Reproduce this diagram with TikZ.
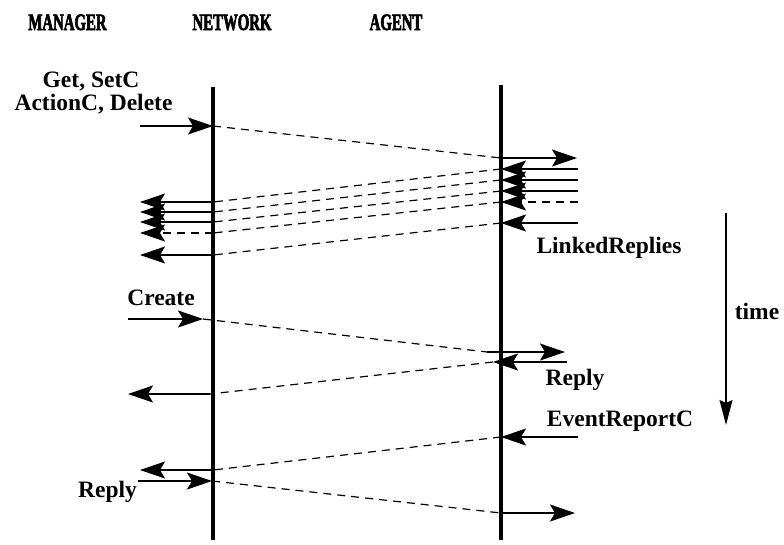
\documentclass[tikz,border=0pt]{standalone}
\usepackage{fontspec}
\setmainfont{Liberation Serif}
\newfontfamily\headfont[FakeStretch=0.63,FakeBold=2.5]{Liberation Serif Bold}
\usetikzlibrary{arrows.meta}
\tikzset{
  lifeline/.style={
    line width=3.2pt,
    black
  },
  msg/.style={
    -{Stealth[length=25pt,width=17pt,inset=5pt]},
    line width=1.3pt
  },
  cross/.style={
    line width=1.2pt,
    dash pattern=on 8pt off 6pt
  },
  timearrow/.style={
    -{Stealth[length=25pt,width=13pt,inset=3pt]},
    line width=1.3pt
  },
  head/.style={
    anchor=base,
    inner sep=0pt,
    font=\headfont\fontsize{23.5}{25}\selectfont
  },
  lbl/.style={
    anchor=base,
    inner sep=0pt,
    font=\bfseries\fontsize{23.5}{25}\selectfont
  }
}
\begin{document}
\begin{tikzpicture}[x=1pt,y=-1pt]
\useasboundingbox (0,0) rectangle (784,544);
% headings
\node[head] (hman) at (67.5,30) {MANAGER};
\node[head] (hnet) at (232,30) {NETWORK};
\node[head] (hag) at (396,30) {AGENT};
% life lines
\coordinate (mtop) at (213,87);
\coordinate (mbot) at (213,540);
\coordinate (atop) at (501,85);
\coordinate (abot) at (501,540);
\draw[lifeline] (mtop) -- (mbot);
\draw[lifeline] (atop) -- (abot);
% request
\node[lbl] (lget) at (91,87) {Get, SetC};
\node[lbl] (lact) at (93.5,110) {ActionC, Delete};
\coordinate (r1s) at (140,126);
\coordinate (r1m) at (213,126);
\coordinate (r1a) at (501,158);
\coordinate (r1e) at (577,158);
\draw[msg] (r1s) -- (r1m);
\draw[cross] (r1m) -- (r1a);
\draw[msg] (r1a) -- (r1e);
% linked replies
\foreach \ya/\ym/\st [count=\i] in {169/202/solid,180/212/solid,191/222/solid,202/233/cross,223/255/solid}{
  \coordinate (ls\i) at (578,\ya);
  \coordinate (la\i) at (501,\ya);
  \coordinate (lm\i) at (213,\ym);
  \coordinate (le\i) at (140,\ym);
  \draw[msg,\st] (ls\i) -- (la\i);
  \draw[cross] (la\i) -- (lm\i);
  \draw[msg,\st] (lm\i) -- (le\i);
}
\node[lbl] (llink) at (609,253) {LinkedReplies};
% create
\node[lbl] (lcre) at (161,305) {Create};
\coordinate (c1s) at (128,319);
\coordinate (c1m) at (203,319);
\coordinate (c1a) at (487,352);
\coordinate (c1e) at (565,352);
\draw[msg] (c1s) -- (c1m);
\draw[cross] (c1m) -- (c1a);
\draw[msg] (c1a) -- (c1e);
\coordinate (p1s) at (567,362);
\coordinate (p1a) at (493,362);
\coordinate (p1m) at (210,394);
\coordinate (p1e) at (128,394);
\draw[msg] (p1s) -- (p1a);
\draw[cross] (p1a) -- (p1m);
\draw[msg] (p1m) -- (p1e);
\node[lbl] (lrep1) at (575,385) {Reply};
% event report
\node[lbl] (levt) at (620,426) {EventReportC};
\coordinate (e1s) at (578,437);
\coordinate (e1a) at (501,437);
\coordinate (e1m) at (213,470);
\coordinate (e1e) at (140,470);
\draw[msg] (e1s) -- (e1a);
\draw[cross] (e1a) -- (e1m);
\draw[msg] (e1m) -- (e1e);
\coordinate (q1s) at (138,481);
\coordinate (q1m) at (212,481);
\coordinate (q1a) at (501,513);
\coordinate (q1e) at (575,513);
\draw[msg] (q1s) -- (q1m);
\draw[cross] (q1m) -- (q1a);
\draw[msg] (q1a) -- (q1e);
\node[lbl] (lrep2) at (107.5,497) {Reply};
% time
\coordinate (t1) at (726,213);
\coordinate (t2) at (726,425);
\draw[timearrow] (t1) -- (t2);
\node[lbl] (ltime) at (757,319) {time};
\end{tikzpicture}
\end{document}
